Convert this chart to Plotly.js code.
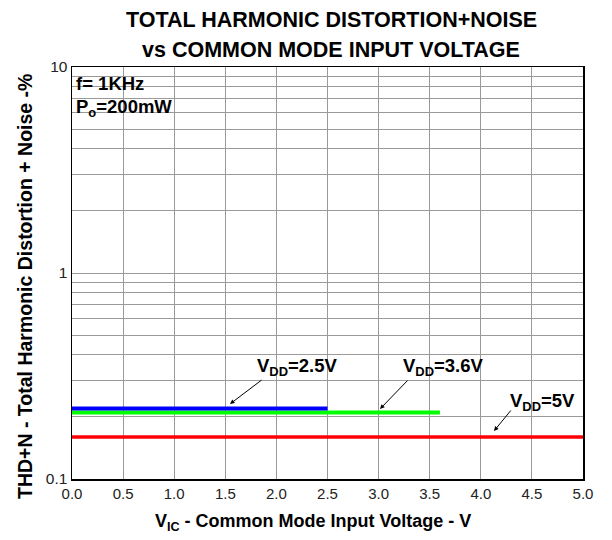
<!DOCTYPE html>
<html>
<head>
<meta charset="utf-8">
<script src="https://cdn.plot.ly/plotly-3.0.1.min.js"></script>
<style>html,body{margin:0;padding:0;background:#fff;}#chart{width:612px;height:540px;}</style>
</head>
<body>
<div id="chart"></div>
<script>
// Series: THD+N (%) vs common-mode input voltage (V)
var vdd25_x = [0.0, 2.5];
var vdd25_y = [0.22, 0.22];
var vdd36_x = [0.0, 3.6];
var vdd36_y = [0.21, 0.21];
var vdd5_x = [0.0, 5.0];
var vdd5_y = [0.16, 0.16];

var xTickVals = [0, 0.5, 1, 1.5, 2, 2.5, 3, 3.5, 4, 4.5, 5];
var xTickText = ['0.0','0.5','1.0','1.5','2.0','2.5','3.0','3.5','4.0','4.5','5.0'];
var yTickVals = [0.1,0.2,0.3,0.4,0.5,0.6,0.7,0.8,0.9,1,2,3,4,5,6,7,8,9,10];
var yTickText = ['0.1','','','','','','','','','1','','','','','','','','','10'];

var FONT = 'Liberation Sans, Arial, sans-serif';

var traces = [
  {x: vdd5_x, y: vdd5_y, mode: 'lines', line: {color: '#ff0000', width: 3.5}, showlegend: false},
  {x: vdd36_x, y: vdd36_y, mode: 'lines', line: {color: '#00ff00', width: 4}, showlegend: false},
  {x: vdd25_x, y: vdd25_y, mode: 'lines', line: {color: '#0000ff', width: 4}, showlegend: false}
];

function px(p){ return (p - 72) / 511; }
function py(p){ return (479 - p) / 412; }

var lblFont = {family: FONT, size: 18.5, color: '#000'};
var annotations = [
  {xref:'paper', yref:'paper', x: px(331), y: py(20), xanchor:'center', yanchor:'middle', showarrow:false,
   text:'<b>TOTAL HARMONIC DISTORTION+NOISE</b>', font: {family: FONT, size: 21.5, color: '#000'}},
  {xref:'paper', yref:'paper', x: px(331), y: py(50), xanchor:'center', yanchor:'middle', showarrow:false,
   text:'<b>vs COMMON MODE INPUT VOLTAGE</b>', font: {family: FONT, size: 21.5, color: '#000'}},
  {xref:'paper', yref:'paper', x: px(25), y: py(287), xanchor:'center', yanchor:'middle', showarrow:false,
   textangle: -90, text:'<b>THD+N - Total Harmonic Distortion + Noise -%</b>',
   font: {family: FONT, size: 19.5, color: '#000'}},
  {xref:'paper', yref:'paper', x: px(313), y: py(522), xanchor:'center', yanchor:'middle', showarrow:false,
   text:'<b>V<sub>IC</sub> - Common Mode Input Voltage - V</b>',
   font: {family: FONT, size: 18, color: '#000'}},
  {xref:'paper', yref:'paper', x: px(74), y: py(83), xanchor:'left', yanchor:'middle', showarrow:false,
   text:'<b>f= 1KHz</b>', font: lblFont},
  {xref:'paper', yref:'paper', x: px(74), y: py(108), xanchor:'left', yanchor:'middle', showarrow:false,
   text:'<b>P<sub>o</sub>=200mW</b>', font: lblFont},
  {xref:'paper', yref:'paper', x: px(297), y: py(367), xanchor:'center', yanchor:'middle', showarrow:false,
   text:'<b>V<sub>DD</sub>=2.5V</b>', font: lblFont},
  {xref:'paper', yref:'paper', x: px(443), y: py(367), xanchor:'center', yanchor:'middle', showarrow:false,
   text:'<b>V<sub>DD</sub>=3.6V</b>', font: lblFont},
  {xref:'paper', yref:'paper', x: px(542), y: py(402), xanchor:'center', yanchor:'middle', showarrow:false,
   text:'<b>V<sub>DD</sub>=5V</b>', font: lblFont},
  {xref:'paper', yref:'paper', x: px(230), y: py(404), showarrow:true, text:'', ax: 33, ay: -25,
   arrowhead:2, arrowsize:0.9, arrowwidth:1, arrowcolor:'#000'},
  {xref:'paper', yref:'paper', x: px(380), y: py(409), showarrow:true, text:'', ax: 29, ay: -30,
   arrowhead:2, arrowsize:0.9, arrowwidth:1, arrowcolor:'#000'},
  {xref:'paper', yref:'paper', x: px(494), y: py(431), showarrow:true, text:'', ax: 18, ay: -22,
   arrowhead:2, arrowsize:0.9, arrowwidth:1, arrowcolor:'#000'}
];

var layout = {
  width: 612, height: 540,
  margin: {l: 72, r: 29, t: 67, b: 61, pad: 0},
  paper_bgcolor: '#fff', plot_bgcolor: '#fff',
  font: {family: FONT, color: '#000'},
  xaxis: {
    range: [0, 5], tickvals: xTickVals, ticktext: xTickText,
    showgrid: true, gridcolor: '#9a9a9a', gridwidth: 1,
    showline: true, mirror: true, linecolor: '#000', linewidth: 1.5,
    zeroline: false, ticks: '',
    tickfont: {family: FONT, size: 15, color: '#222'}
  },
  yaxis: {
    type: 'log', range: [-1, 1], tickvals: yTickVals, ticktext: yTickText,
    showgrid: true, gridcolor: '#9a9a9a', gridwidth: 1,
    showline: true, mirror: true, linecolor: '#000', linewidth: 1.5,
    zeroline: false, ticks: '',
    tickfont: {family: FONT, size: 15.5, color: '#222'}
  },
  annotations: annotations,
  showlegend: false
};

Plotly.newPlot('chart', traces, layout, {displayModeBar: false, staticPlot: true});
</script>
</body>
</html>
